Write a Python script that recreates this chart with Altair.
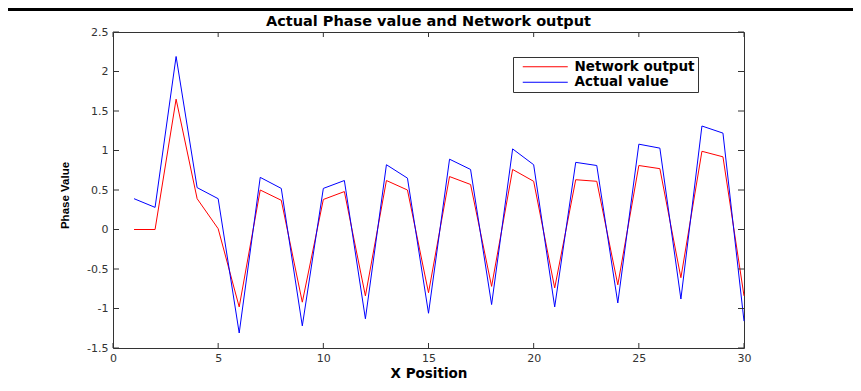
import altair as alt
import pandas as pd

# ---- data ----
x_pos = list(range(1, 31))
network_output = [0.00, 0.00, 1.65, 0.39, 0.01, -0.98, 0.50, 0.37, -0.92, 0.38,
                  0.48, -0.84, 0.62, 0.50, -0.80, 0.67, 0.57, -0.72, 0.76, 0.61,
                  -0.74, 0.63, 0.61, -0.70, 0.81, 0.77, -0.61, 0.99, 0.92, -0.84]
actual_value = [0.39, 0.28, 2.19, 0.53, 0.39, -1.31, 0.66, 0.52, -1.22, 0.52,
                0.62, -1.13, 0.82, 0.65, -1.06, 0.89, 0.76, -0.95, 1.02, 0.82,
                -0.98, 0.85, 0.81, -0.93, 1.08, 1.03, -0.88, 1.31, 1.22, -1.16]
x_ticks = [0, 5, 10, 15, 20, 25, 30]
y_ticks = [-1.5, -1, -0.5, 0, 0.5, 1, 1.5, 2, 2.5]
series_names = ["Network output", "Actual value"]
series_colors = ["#ff0000", "#0000ff"]

W, H = 631, 316

df = pd.concat([
    pd.DataFrame({"x": x_pos, "y": network_output, "series": series_names[0]}),
    pd.DataFrame({"x": x_pos, "y": actual_value, "series": series_names[1]}),
])

xscale = alt.Scale(domain=[0, 30], nice=False, zero=False)
yscale = alt.Scale(domain=[-1.5, 2.5], nice=False, zero=False)
cscale = alt.Scale(domain=series_names, range=series_colors)

legend = alt.Legend(
    title=None, orient="none", legendX=400, legendY=25,
    padding=3, strokeColor="#333", fillColor="white",
    symbolType="M-1,0H6.5", symbolSize=144, symbolStrokeWidth=1,
    symbolOffset=6, labelOffset=39, rowPadding=0.5,
    labelFont="DejaVu Sans", labelFontSize=13.5, labelFontWeight="bold",
    labelColor="black",
)

x_axis = alt.Axis(
    values=x_ticks, ticks=False, domain=False, grid=False,
    labelFont="DejaVu Sans", labelFontSize=11, labelColor="#333",
    labelPadding=4, labelExpr="toString(datum.value)", labelFlush=False,
    labelOverlap=False,
    title="X Position", titleFont="DejaVu Sans", titleFontSize=13.5,
    titleFontWeight="bold", titleColor="black",
    titleX=315.5, titleY=29, titleBaseline="alphabetic", titleAlign="center",
)
y_axis = alt.Axis(
    values=y_ticks, ticks=False, domain=False, grid=False,
    labelFont="DejaVu Sans", labelFontSize=11, labelColor="#333",
    labelPadding=5, labelExpr="toString(datum.value)", labelFlush=False,
    labelOverlap=False,
    title="Phase Value", titleFont="Liberation Sans", titleFontSize=11.5,
    titleFontWeight="bold", titleColor="black",
    titleX=-48, titleY=163, titleAngle=270, titleBaseline="middle",
    titleAlign="center",
)

red_line = alt.Chart(df).transform_filter(
    alt.datum.series == series_names[0]
).mark_line(strokeWidth=1).encode(
    x=alt.X("x:Q", scale=xscale, axis=x_axis),
    y=alt.Y("y:Q", scale=yscale, axis=y_axis),
    color=alt.Color("series:N", scale=cscale, legend=legend),
)
blue_line = alt.Chart(df).transform_filter(
    alt.datum.series == series_names[1]
).mark_line(strokeWidth=1).encode(
    x=alt.X("x:Q", scale=xscale, axis=x_axis),
    y=alt.Y("y:Q", scale=yscale, axis=y_axis),
    color=alt.Color("series:N", scale=cscale, legend=legend),
)

xt = pd.DataFrame({"x": x_ticks})
yt = pd.DataFrame({"y": y_ticks})
tick_color = "#333"
tick_bottom = alt.Chart(xt).mark_rule(color=tick_color, strokeWidth=1).encode(
    x=alt.X("x:Q", scale=xscale, axis=x_axis), y=alt.value(H), y2=alt.value(H - 5))
tick_top = alt.Chart(xt).mark_rule(color=tick_color, strokeWidth=1).encode(
    x=alt.X("x:Q", scale=xscale, axis=x_axis), y=alt.value(0), y2=alt.value(5))
tick_left = alt.Chart(yt).mark_rule(color=tick_color, strokeWidth=1).encode(
    y=alt.Y("y:Q", scale=yscale, axis=y_axis), x=alt.value(0), x2=alt.value(6))
tick_right = alt.Chart(yt).mark_rule(color=tick_color, strokeWidth=1).encode(
    y=alt.Y("y:Q", scale=yscale, axis=y_axis), x=alt.value(W), x2=alt.value(W - 6))

top_bar = alt.Chart(pd.DataFrame({"k": [0]})).mark_rule(
    color="black", strokeWidth=3).encode(
    x=alt.value(-105), x2=alt.value(740), y=alt.value(-22.5))

chart = alt.layer(
    red_line, blue_line, tick_bottom, tick_top, tick_left, tick_right, top_bar
).properties(
    width=W, height=H,
    title=alt.Title(
        "Actual Phase value and Network output", font="DejaVu Sans",
        fontSize=14.5, fontWeight="bold", color="black", anchor="middle",
        frame="group", offset=0, dy=32, baseline="alphabetic",
    ),
    padding={"left": 105, "top": 24, "right": 109, "bottom": 35},
    autosize=alt.AutoSizeParams(type="none"),
    background="white",
).configure_view(stroke="#333", strokeWidth=1)

chart.save("out.html", embed_options={"renderer": "svg", "actions": False})
